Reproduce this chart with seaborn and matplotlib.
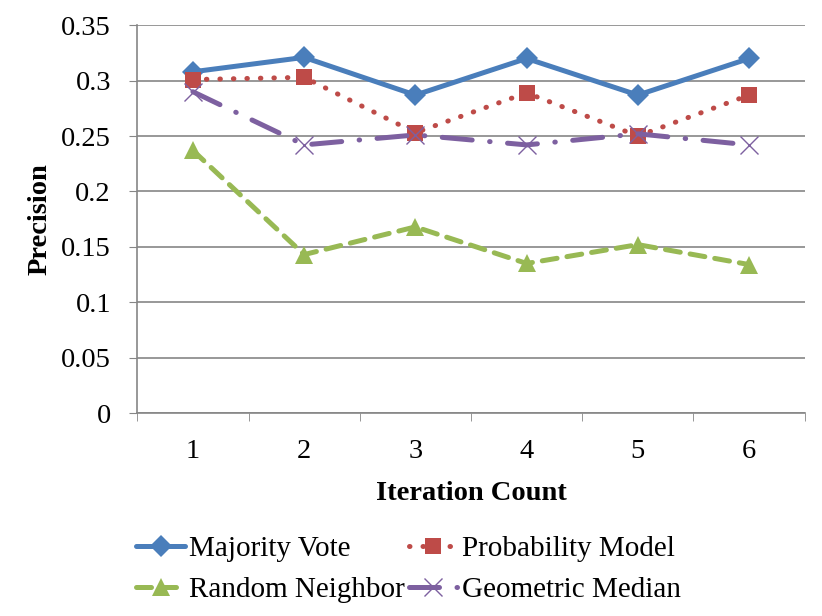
import numpy as np
import pandas as pd
import matplotlib
matplotlib.use('Agg')
import matplotlib.pyplot as plt
import seaborn as sns

# valores
iteracoes = [1, 2, 3, 4, 5, 6]
majority_vote = [0.308, 0.321, 0.287, 0.320, 0.287, 0.320]
probability_model = [0.301, 0.303, 0.253, 0.289, 0.250, 0.287]
random_neighbor = [0.237, 0.143, 0.168, 0.135, 0.152, 0.134]
geometric_median = [0.290, 0.242, 0.251, 0.242, 0.252, 0.242]
y_ticks = [0, 0.05, 0.1, 0.15, 0.2, 0.25, 0.3, 0.35]
y_tick_labels = ['0', '0.05', '0.1', '0.15', '0.2', '0.25', '0.3', '0.35']

sns.set_style('white')
plt.rcParams['font.family'] = ['Liberation Serif', 'DejaVu Serif']
plt.rcParams['text.color'] = 'black'
plt.rcParams['axes.labelcolor'] = 'black'

fig, ax = plt.subplots(figsize=(8.22, 6.16), dpi=100)
fig.subplots_adjust(left=0.167, right=0.979, top=0.959, bottom=0.3295)

series = [
    ('Majority Vote', majority_vote, '#4A7EBB', 'D', 11, '-'),
    ('Probability Model', probability_model, '#BE4B48', 's', 12, (0, (0.1, 2.6))),
    ('Random Neighbor', random_neighbor, '#98B954', '^', 13, (0, (3.0, 2.0))),
    ('Geometric Median', geometric_median, '#7D60A0', 'x', 13, (0, (6, 3.5, 0.1, 3.5))),
]

for nome, valores, cor, mk, ms, ls in series:
    base = pd.DataFrame({'x': iteracoes, 'y': valores})
    sns.lineplot(data=base, x='x', y='y', ax=ax, color=cor, label=nome,
                 marker=mk, markersize=ms, markeredgecolor=cor,
                 markeredgewidth=1.0 if mk == 'x' else 0,
                 linewidth=3.6, linestyle=ls, dash_capstyle='round',
                 solid_capstyle='round')

ax.set_xlim(0.5, 6.5)
ax.set_ylim(0, 0.35)
ax.set_yticks(y_ticks)
ax.set_yticklabels(y_tick_labels)
ax.set_xticks(iteracoes)
ax.set_xticks(np.arange(0.5, 7, 1), minor=True)
ax.tick_params(axis='x', which='major', length=0, pad=19, labelsize=20.5, labelcolor='black')
ax.tick_params(axis='x', which='minor', length=6, color='#868686', direction='out', bottom=True)
ax.tick_params(axis='y', length=6, color='#868686', direction='out', left=True,
               labelsize=20.5, labelcolor='black', pad=13)

ax.yaxis.grid(True, color='#868686', linewidth=1.2)
ax.set_axisbelow(True)
for lado in ['top', 'right']:
    ax.spines[lado].set_visible(False)
for lado in ['left', 'bottom']:
    ax.spines[lado].set_color('#868686')
    ax.spines[lado].set_linewidth(1.2)

ax.set_xlabel('Iteration Count', fontsize=20.5, fontweight='bold', labelpad=12)
ax.set_ylabel('Precision', fontsize=20.5, fontweight='bold', labelpad=6)

# legenda em linhas: Majority/Probability em cima, Random/Geometric embaixo
handles, labels = ax.get_legend_handles_labels()
ordem = [0, 2, 1, 3]
ax.get_legend().remove()
fig.legend([handles[i] for i in ordem], [labels[i] for i in ordem],
           loc='upper left', bbox_to_anchor=(0.166, 0.131), ncol=2, frameon=False,
           fontsize=21, handlelength=1.65, handletextpad=0.15, columnspacing=0.15,
           labelspacing=0.52, borderpad=0, borderaxespad=0)

plt.savefig('out.png', dpi=100)
